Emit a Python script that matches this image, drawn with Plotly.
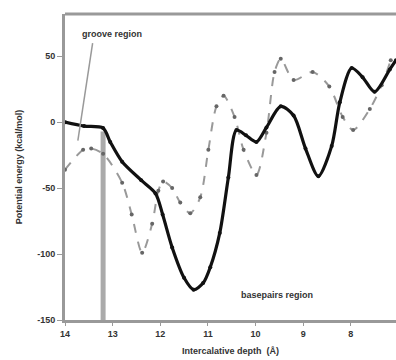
import plotly.graph_objects as go

# Solid series (basepairs path)
solid_x = [14.0, 13.6, 13.2, 13.05, 12.8, 12.4, 12.1, 11.95, 11.75, 11.5, 11.3, 11.1, 10.95, 10.75,
           10.57, 10.4, 10.2, 9.98, 9.77, 9.47, 9.2, 8.95, 8.68, 8.4, 8.23, 7.98, 7.75, 7.5, 7.18, 7.05]
solid_y = [0, -3, -4.5, -15, -30, -44, -54, -70, -95, -118, -127, -122, -110, -84,
           -42, -6, -10, -15, -4, 12, 5, -20, -41, -18, 15, 41, 34, 23, 40, 47]

# Dashed series (groove path)
dash_x = [14.0, 13.62, 13.45, 13.2, 12.8, 12.6, 12.38, 12.17, 12.04, 11.94, 11.75, 11.58, 11.37, 11.16,
          10.99, 10.82, 10.67, 10.44, 10.25, 9.98, 9.77, 9.6, 9.47, 9.2, 8.8, 8.45, 8.17, 7.95, 7.6, 7.35, 7.16]
dash_y = [-36, -21, -20, -24, -46, -70, -99, -77, -52, -45, -50, -61, -69, -57,
          -21, 12, 20, 4, -21, -40, -8, 38, 48, 32, 38, 27, 4, -6, 10, 28, 47]

x_ticks = [14, 13, 12, 11, 10, 9, 8]
y_ticks = [50, 0, -50, -100, -150]

fig = go.Figure()
fig.add_trace(go.Scatter(x=dash_x, y=dash_y, mode="lines+markers",
                         line=dict(color="#999999", width=2, dash="dash", shape="spline", smoothing=0.8),
                         marker=dict(size=4, color="#666"), showlegend=False))
fig.add_trace(go.Scatter(x=solid_x, y=solid_y, mode="lines+markers",
                         line=dict(color="#111", width=3.2, shape="spline", smoothing=0.8),
                         marker=dict(size=4, color="#111"), showlegend=False))

# vertical bar marking groove region boundary
fig.add_shape(type="line", x0=13.2, x1=13.2, y0=-150, y1=-7, xref="x", yref="y",
              line=dict(color="#aaaaaa", width=5), layer="below")
# leader line for groove label
fig.add_shape(type="line", x0=13.42, x1=13.73, y0=60, y1=-14, xref="x", yref="y",
              line=dict(color="#999999", width=1.5))

font = dict(family="Liberation Sans, Arial, sans-serif", size=9, color="#333")
fig.add_annotation(x=13.01, y=67, text="<b>groove region</b>", showarrow=False, font=font)
fig.add_annotation(x=9.54, y=-131, text="<b>basepairs region</b>", showarrow=False, font=font)

fig.update_layout(
    width=396, height=360, margin=dict(l=65, r=0, t=14, b=40),
    paper_bgcolor="white", plot_bgcolor="white",
    font=font,
    xaxis=dict(range=[14, 7.05], tickvals=x_ticks, ticktext=[f"<b>{v}</b>" for v in x_ticks],
               showgrid=False, zeroline=False, showline=True, linecolor="#999", linewidth=3,
               ticks="outside", ticklen=3, tickcolor="#999", mirror=False,
               title=dict(text="<b>Intercalative depth  (Å)</b>", standoff=10, font=font)),
    yaxis=dict(range=[-150, 82], tickvals=y_ticks, ticktext=[f"<b>{v}</b>" for v in y_ticks],
               showgrid=False, zeroline=False, showline=True, linecolor="#999", linewidth=3,
               ticks="outside", ticklen=5, tickcolor="#999",
               title=dict(text="<b>Potential energy (kcal/mol)</b>", standoff=14, font=font)),
)
# top border line
fig.add_shape(type="line", xref="paper", yref="paper", x0=0, x1=1, y0=1, y1=1,
              line=dict(color="#999", width=3))

fig.write_html("out.html")
